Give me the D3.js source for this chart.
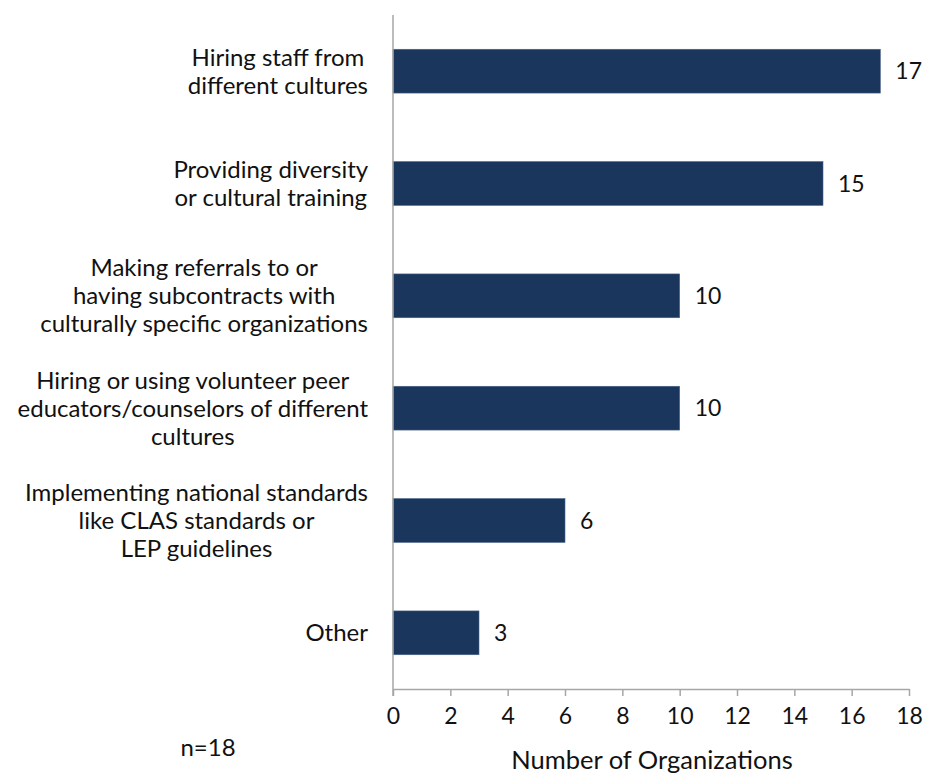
<!DOCTYPE html>
<html><head><meta charset="utf-8">
<script src="https://cdn.jsdelivr.net/npm/d3@7"></script>
<style>body{margin:0;background:#fff}svg{display:block}text{font-family:Lato,"Open Sans",sans-serif;fill:#111}</style>
</head><body>
<script>
const categories = [
  ["Hiring staff from","different cultures"],
  ["Providing diversity","or cultural training"],
  ["Making referrals to or","having subcontracts with","culturally specific organizations"],
  ["Hiring or using volunteer peer","educators/counselors of different","cultures"],
  ["Implementing national standards","like CLAS standards or","LEP guidelines"],
  ["Other"]
];
const values = [17, 15, 10, 10, 6, 3];
const xTicks = [0,2,4,6,8,10,12,14,16,18];
const axisTitle = "Number of Organizations";
const note = "n=18";

(function(){
const W = 925, H = 774;
const svg = d3.select("body").append("svg").attr("width", W).attr("height", H);
const pL = 393, pR = 909, pT = 15, pB = 689;
const x = d3.scaleLinear().domain([0,18]).range([pL,pR]);
const y = d3.scaleBand().domain(d3.range(categories.length)).range([pT,pB]).paddingInner(0.61).paddingOuter(0.305);

svg.selectAll("rect.bar").data(values).join("rect").attr("class","bar")
  .attr("x", x(0)).attr("y",(d,i)=>y(i)).attr("width",d=>x(d)-x(0)).attr("height",y.bandwidth())
  .attr("fill","#1b365d").attr("stroke","#4a6285").attr("stroke-width",0.6);

const g = svg.append("g").attr("transform",`translate(0,${pB})`);
const ax = d3.axisBottom(x).tickValues(xTicks).tickSize(7).tickSizeOuter(0).tickPadding(12);
g.call(ax);
g.select(".domain").attr("stroke","#a6a6a6").attr("stroke-width",1.5);
g.selectAll(".tick line").attr("stroke","#a6a6a6").attr("stroke-width",1.5);
g.selectAll(".tick text").style("font-size","23px").attr("fill","#111");

svg.append("line").attr("x1",pL).attr("x2",pL).attr("y1",pT).attr("y2",pB+7)
  .attr("stroke","#a6a6a6").attr("stroke-width",1.5);

svg.selectAll("text.val").data(values).join("text").attr("class","val")
  .attr("x",d=>x(d)+15).attr("y",(d,i)=>y(i)+y.bandwidth()/2).attr("dy","0.35em")
  .style("font-size","23px").text(d=>d);

const lh = 28;
categories.forEach((lines,i)=>{
  const cy = y(i)+y.bandwidth()/2;
  const t = svg.append("text").style("font-size","24px").attr("text-anchor","middle");
  const spans = lines.map((l,k)=>t.append("tspan").text(l));
  const maxW = d3.max(spans, s=>s.node().getComputedTextLength());
  const cx = 368 - maxW/2;
  spans.forEach((s,k)=>s.attr("x",cx).attr("y", cy + (k-(lines.length-1)/2)*lh).attr("dy","0.35em"));
});

svg.append("text").attr("x",652).attr("y",760).attr("dy","0.35em").attr("text-anchor","middle").style("font-size","25.5px").text(axisTitle);
svg.append("text").attr("x",208).attr("y",748).attr("dy","0.35em").attr("text-anchor","middle").style("font-size","24px").text(note);
})();
</script>
</body></html>
